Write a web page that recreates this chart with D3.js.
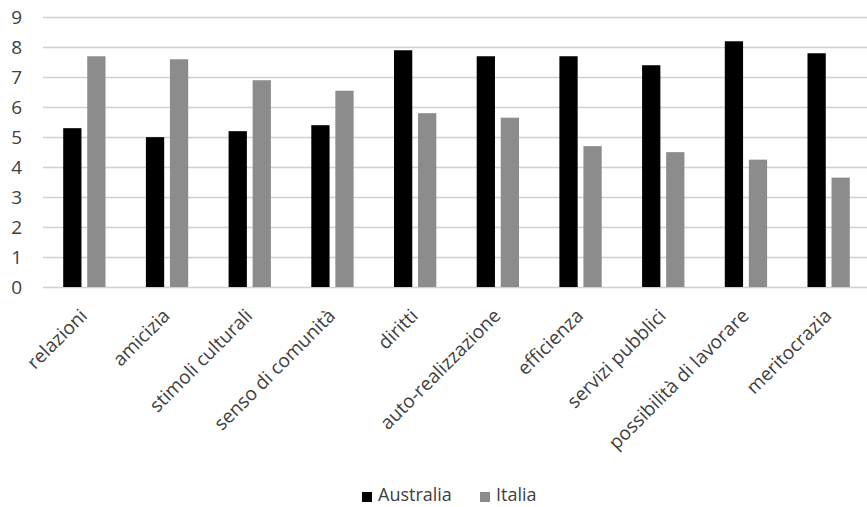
<!DOCTYPE html>
<html>
<head>
<meta charset="utf-8">
<script src="https://cdn.jsdelivr.net/npm/d3@7"></script>
<style>
  html, body { margin: 0; padding: 0; background: #fff; }
  svg { display: block; }
  text { font-family: "Open Sans", sans-serif; fill: #404040; }
</style>
</head>
<body>
<svg id="chart" width="867" height="507"></svg>
<script>
// Category labels along the x axis
const categories = [
  "relazioni", "amicizia", "stimoli culturali", "senso di comunità", "diritti",
  "auto-realizzazione", "efficienza", "servizi pubblici",
  "possibilità di lavorare", "meritocrazia"
];
// Series names and their values per category
const seriesNames = ["Australia", "Italia"];
const australia = [5.3, 5.0, 5.2, 5.4, 7.9, 7.7, 7.7, 7.4, 8.2, 7.8];
const italia    = [7.7, 7.6, 6.9, 6.55, 5.8, 5.65, 4.7, 4.5, 4.25, 3.65];
const yTicks = [0, 1, 2, 3, 4, 5, 6, 7, 8, 9];

const colors = { "Australia": "#000000", "Italia": "#8c8c8c" };

const rows = categories.map((c, i) => ({
  category: c,
  values: [
    { key: "Australia", value: australia[i] },
    { key: "Italia", value: italia[i] }
  ]
}));

const svg = d3.select("#chart");

const x = d3.scaleBand().domain(categories).range([43, 870]);
const xInner = d3.scaleBand().domain(seriesNames)
  .range([0, x.bandwidth()])
  .paddingInner(0.24)
  .paddingOuter(0.84);
const y = d3.scaleLinear().domain([0, 9]).range([287, 17.3]);

// Horizontal gridlines
svg.append("g")
  .selectAll("line")
  .data(yTicks)
  .join("line")
  .attr("x1", 43)
  .attr("x2", 867)
  .attr("y1", d => Math.round(y(d)) + 0.5)
  .attr("y2", d => Math.round(y(d)) + 0.5)
  .attr("stroke", "#d0d0d0")
  .attr("stroke-width", 1.5);

// Y axis labels
svg.append("g")
  .selectAll("text")
  .data(yTicks)
  .join("text")
  .attr("x", 22)
  .attr("y", d => y(d))
  .attr("dy", "0.35em")
  .attr("text-anchor", "end")
  .style("font-size", "19px")
  .text(d => d);

// Bars
const groups = svg.append("g")
  .selectAll("g")
  .data(rows)
  .join("g")
  .attr("transform", d => `translate(${x(d.category)},0)`);

groups.selectAll("rect")
  .data(d => d.values)
  .join("rect")
  .attr("x", d => xInner(d.key))
  .attr("width", xInner.bandwidth())
  .attr("y", d => y(d.value))
  .attr("height", d => y(0) - y(d.value))
  .attr("fill", d => colors[d.key]);

// Rotated category labels
svg.append("g")
  .selectAll("text")
  .data(categories)
  .join("text")
  .attr("transform", d => `translate(${x(d) + x.bandwidth() / 2 + 4},${317}) rotate(-45)`)
  .attr("text-anchor", "end")
  .style("font-size", "19px")
  .text(d => d);

// Legend
const legend = svg.append("g")
  .attr("transform", "translate(362,0)");
const legendItems = legend.selectAll("g")
  .data(seriesNames)
  .join("g")
  .attr("transform", (d, i) => `translate(${i * 118},0)`);
legendItems.append("rect")
  .attr("x", 0)
  .attr("y", 492)
  .attr("width", 10)
  .attr("height", 10)
  .attr("fill", d => colors[d]);
legendItems.append("text")
  .attr("x", 16)
  .attr("y", 501)
  .style("font-size", "18px")
  .text(d => d);
</script>
</body>
</html>
